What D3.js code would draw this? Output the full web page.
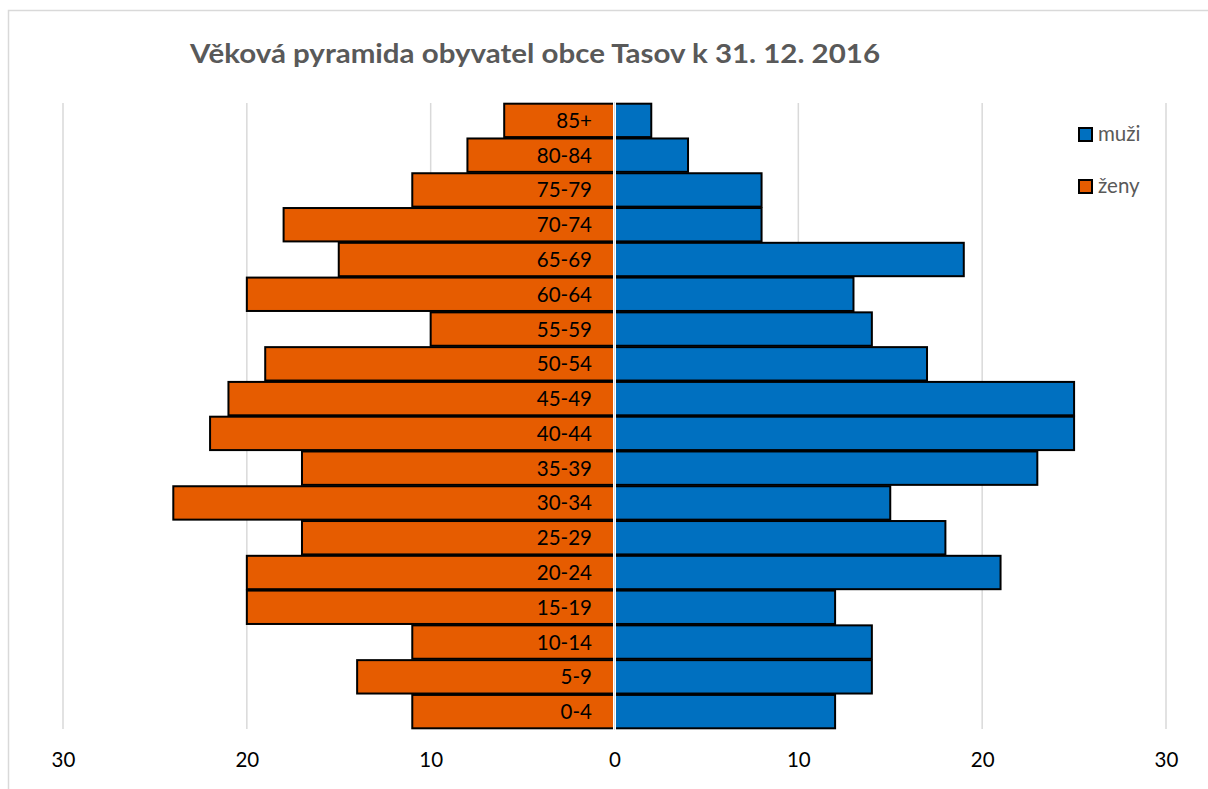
<!DOCTYPE html>
<html><head><meta charset="utf-8">
<script src="https://cdn.jsdelivr.net/npm/d3@7"></script>
<style>body{margin:0;background:#fff}svg{display:block}</style>
</head><body>
<script>
const ageGroups = ["85+","80-84","75-79","70-74","65-69","60-64","55-59","50-54","45-49","40-44","35-39","30-34","25-29","20-24","15-19","10-14","5-9","0-4"];
const men   = [2,4,8,8,19,13,14,17,25,25,23,15,18,21,12,14,14,12];
const women = [6,8,11,18,15,20,10,19,21,22,17,24,17,20,20,11,14,11];
const tickValues = [-30,-20,-10,0,10,20,30];
const seriesNames = ["muži","ženy"];
const titleText = "Věková pyramida obyvatel obce Tasov k 31. 12. 2016";

const W = 1208, H = 789;
const svg = d3.select("body").append("svg").attr("width", W).attr("height", H);
const font = "Lato, 'Open Sans', sans-serif";

svg.append("rect").attr("x", 8.5).attr("y", 10.5).attr("width", 1220).attr("height", 800)
  .attr("fill", "#fff").attr("stroke", "#d9d9d9").attr("stroke-width", 1.5);

const x = d3.scaleLinear().domain([-30, 30]).range([63, 1166]);
const y = d3.scaleBand().domain(ageGroups).range([103, 729]).paddingInner(0.04).paddingOuter(0.02);

// gridlines
svg.append("g").selectAll("line").data(tickValues.filter(d => d !== 0)).join("line")
  .attr("x1", d => x(d)).attr("x2", d => x(d)).attr("y1", 103).attr("y2", 729)
  .attr("stroke", "#d9d9d9").attr("stroke-width", 1.5);

// bars
const rows = ageGroups.map((g, i) => ({g, m: men[i], w: women[i]}));
svg.append("g").selectAll("rect").data(rows).join("rect")
  .attr("x", d => x(-d.w)).attr("y", d => y(d.g))
  .attr("width", d => x(0) - x(-d.w)).attr("height", y.bandwidth())
  .attr("fill", "#E65C00").attr("stroke", "#000").attr("stroke-width", 2);
svg.append("g").selectAll("rect").data(rows).join("rect")
  .attr("x", x(0)).attr("y", d => y(d.g))
  .attr("width", d => x(d.m) - x(0)).attr("height", y.bandwidth())
  .attr("fill", "#0070C0").attr("stroke", "#000").attr("stroke-width", 2);

// center separator
svg.append("rect").attr("x", x(0) - 1.5).attr("y", 102).attr("width", 3).attr("height", 628).attr("fill", "#fff");
svg.append("line").attr("x1", x(0)).attr("x2", x(0)).attr("y1", 102).attr("y2", 730)
  .attr("stroke", "#d9d9d9").attr("stroke-width", 1);

// category labels
svg.append("g").selectAll("text").data(ageGroups).join("text")
  .attr("x", 592).attr("y", d => y(d) + y.bandwidth() / 2 + 7.5)
  .attr("text-anchor", "end").attr("font-family", font).attr("font-size", 20.5).attr("fill", "#000")
  .text(d => d);

// x axis
const axis = d3.axisBottom(x).tickValues(tickValues).tickSize(0).tickPadding(0).tickFormat(d => Math.abs(d));
const ag = svg.append("g").attr("transform", "translate(0,767)").call(axis);
ag.select(".domain").remove();
ag.selectAll("text").attr("font-family", font).attr("font-size", 20.5).attr("fill", "#000").attr("dy", 0).attr("y", 0);

// title
svg.append("text").attr("x", 535).attr("y", 63).attr("text-anchor", "middle")
  .attr("font-family", font).attr("font-weight", "bold").attr("font-size", 27.5).attr("fill", "#595959")
  .attr("textLength", 690).attr("lengthAdjust", "spacingAndGlyphs")
  .text(titleText);

// legend
const legColors = ["#0070C0", "#E65C00"];
const lg = svg.append("g").selectAll("g").data(seriesNames).join("g")
  .attr("transform", (d, i) => `translate(1079,${128 + i * 52})`);
lg.append("rect").attr("width", 13).attr("height", 13).attr("fill", (d, i) => legColors[i])
  .attr("stroke", "#000").attr("stroke-width", 2);
lg.append("text").attr("x", 19).attr("y", 13).attr("font-family", font).attr("font-size", 20.5)
  .attr("fill", "#595959").text(d => d);
</script>
</body></html>
